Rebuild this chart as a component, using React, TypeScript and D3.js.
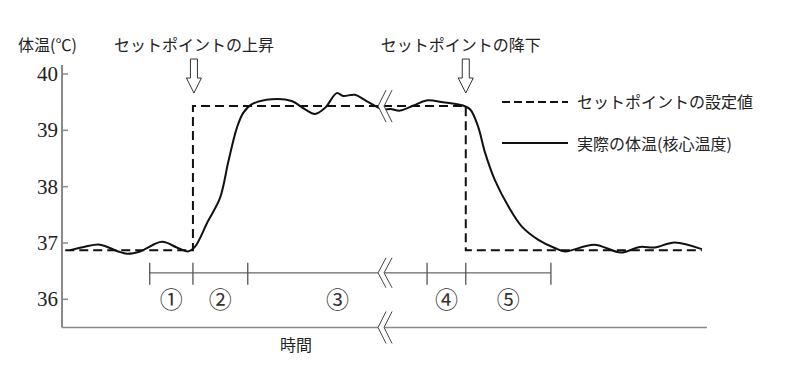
import * as d3 from 'd3';

const TIME = [1.2, 3.4, 5.9, 8.7, 10.1, 12.1, 15.5, 17.8, 19.5, 20.6, 22.6, 24.5, 25.8, 27.1, 28.1, 29.4, 32.5, 35.6, 37.7, 39.2, 40.8, 42.6, 43.6, 45.4, 47.2, 49.8, 50.9, 52.4, 54.5, 56.5, 59.1, 62.2, 63.3, 64.5, 65.6, 67.1, 69.2, 71.3, 73.8, 76.4, 78.0, 82.5, 86.7, 89.6, 91.9, 95.0, 99.2];
const TEMP = [36.87, 36.93, 36.97, 36.85, 36.81, 36.85, 37.02, 36.92, 36.85, 36.93, 37.38, 37.80, 38.45, 39.04, 39.31, 39.46, 39.55, 39.52, 39.37, 39.29, 39.40, 39.66, 39.61, 39.63, 39.52, 39.37, 39.38, 39.35, 39.44, 39.53, 39.50, 39.44, 39.37, 39.07, 38.60, 38.12, 37.65, 37.29, 37.06, 36.91, 36.85, 36.97, 36.83, 36.93, 36.92, 37.01, 36.89];

// set point (step)
const SP_TIME = [0.5, 20.3, 62.6, 99.2];
const SP_TEMP = [36.87, 39.43, 36.87, 36.87];

const Y_TICKS = [36, 37, 38, 39, 40];
const PHASE_EDGES = [13.6, 20.3, 28.8, 56.6, 62.6, 75.8];
const PHASE_LABELS = ['①', '②', '③', '④', '⑤'];
const PHASE_TEMP = 36.47;
const BREAK_T = 49.0;

const W = 785, H = 368;
const JP = '"Noto Sans CJK JP", "Noto Sans", sans-serif';
const NUM = '"Liberation Serif", "DejaVu Serif", serif';
const AXIS = '#8a8a8a';

const x = d3.scaleLinear().domain([0, 100]).range([62, 707]);
const y = d3.scaleLinear().domain([36, 40]).range([299.3, 74]);

function Break({ cx, cy, h = 16 }: { cx: number; cy: number; h?: number }) {
  const a: [number, number][] = [[cx + 8, cy - h], [cx, cy], [cx + 8, cy + h]];
  const b = a.map(([px, py]) => [px + 6, py] as [number, number]);
  const ln = d3.line();
  return (
    <g>
      <polygon points={[...a, ...b.slice().reverse()].map(p => p.join(',')).join(' ')} fill="#fff" />
      <path d={ln(a) ?? ''} fill="none" stroke="#444" strokeWidth={1} />
      <path d={ln(b) ?? ''} fill="none" stroke="#444" strokeWidth={1} />
    </g>
  );
}

function Arrow({ cx }: { cx: number }) {
  const d = `M${cx - 3.5},59 H${cx + 3.5} V78 H${cx + 7.5} L${cx},93 L${cx - 7.5},78 H${cx - 3.5} Z`;
  return <path d={d} fill="#fff" stroke="#333" strokeWidth={1} />;
}

export default function App() {
  const pts = TIME.map((t, i) => [t, TEMP[i]] as [number, number]);
  const curve = d3.line<[number, number]>()
    .x(d => x(d[0])).y(d => y(d[1]))
    .curve(d3.curveCatmullRom.alpha(0.5));
  const sp = d3.line<[number, number]>()
    .x(d => x(d[0])).y(d => y(d[1]))
    .curve(d3.curveStepAfter);
  const spPts = SP_TIME.map((t, i) => [t, SP_TEMP[i]] as [number, number]);

  const yTop = y(40.16), yBot = y(35.5);
  const py = y(PHASE_TEMP);

  return (
    <svg width={W} height={H} style={{ position: 'absolute', left: 0, top: 0, background: '#fff' }}>
      {/* y axis */}
      <line x1={x(0)} x2={x(0)} y1={yTop} y2={yBot} stroke={AXIS} strokeWidth={2} />
      {Y_TICKS.map(t => (
        <g key={t}>
          <line x1={x(0)} x2={x(0) + 6} y1={y(t)} y2={y(t)} stroke={AXIS} strokeWidth={1.5} />
          <text x={x(0) - 4} y={y(t) + 7} textAnchor="end" fontFamily={NUM} fontSize={21} fill="#222">{t}</text>
        </g>
      ))}
      {/* x axis */}
      <line x1={x(0)} x2={x(100)} y1={yBot} y2={yBot} stroke={AXIS} strokeWidth={1.5} />

      <text x={18} y={51} fontFamily={JP} fontSize={16} fill="#222">体温(℃)</text>
      <text x={x(SP_TIME[1]) + 1} y={51} textAnchor="middle" fontFamily={JP} fontSize={16} fill="#222">セットポイントの上昇</text>
      <text x={x(SP_TIME[2]) - 5} y={51} textAnchor="middle" fontFamily={JP} fontSize={16} fill="#222">セットポイントの降下</text>
      <Arrow cx={x(SP_TIME[1]) + 1} />
      <Arrow cx={x(SP_TIME[2])} />

      {/* phases */}
      <line x1={x(PHASE_EDGES[0])} x2={x(PHASE_EDGES[PHASE_EDGES.length - 1])} y1={py} y2={py} stroke="#666" strokeWidth={1.3} />
      {PHASE_EDGES.map(t => (
        <line key={t} x1={x(t)} x2={x(t)} y1={py - 10} y2={py + 12} stroke="#555" strokeWidth={1.3} />
      ))}
      {PHASE_LABELS.map((l, i) => (
        <text key={l} x={x((PHASE_EDGES[i] + PHASE_EDGES[i + 1]) / 2)} y={py + 35} textAnchor="middle" fontFamily={JP} fontSize={23} fill="#333">{l}</text>
      ))}

      {/* series */}
      <path d={sp(spPts) ?? ''} fill="none" stroke="#111" strokeWidth={2} strokeDasharray="9 5" />
      <path d={curve(pts) ?? ''} fill="none" stroke="#111" strokeWidth={2} />

      {/* breaks */}
      <Break cx={x(BREAK_T)} cy={y(SP_TEMP[1])} />
      <Break cx={x(BREAK_T)} cy={py} h={15} />
      <Break cx={x(BREAK_T)} cy={yBot} />

      <text x={296} y={351} textAnchor="middle" fontFamily={JP} fontSize={16} fill="#222">時間</text>

      {/* legend */}
      <line x1={502} x2={568} y1={102} y2={102} stroke="#111" strokeWidth={2} strokeDasharray="8 4" />
      <text x={577} y={108} fontFamily={JP} fontSize={16} fill="#222">セットポイントの設定値</text>
      <line x1={502} x2={568} y1={143} y2={143} stroke="#111" strokeWidth={2} />
      <text x={577} y={150} fontFamily={JP} fontSize={16} fill="#222">実際の体温(核心温度)</text>
    </svg>
  );
}
